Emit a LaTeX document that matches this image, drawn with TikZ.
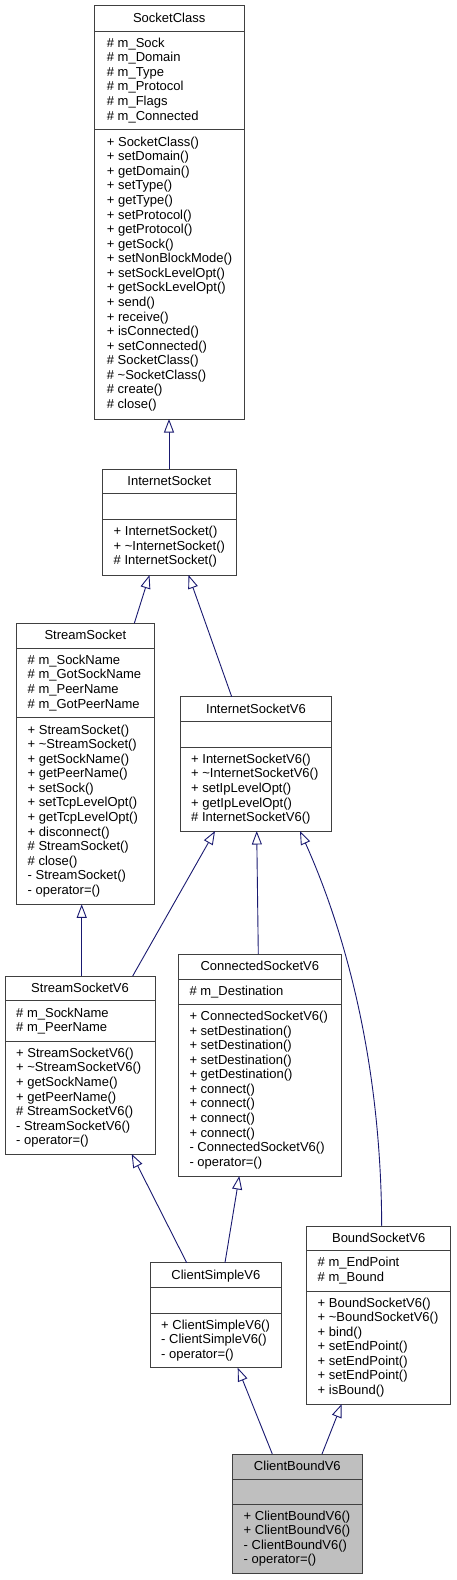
\documentclass[tikz,border=0pt]{standalone}
\usepackage{fontspec}
\setmainfont{Liberation Sans}
\usetikzlibrary{arrows.meta}
\definecolor{edgeblue}{HTML}{191970}
\definecolor{boxline}{HTML}{404040}
\definecolor{cbfill}{HTML}{BFBFBF}
\tikzset{
 cls/.style={draw=boxline, line width=1pt, fill=white, outer sep=0pt, inner sep=0pt, rectangle},
 seprule/.style={draw=boxline, line width=1pt},
 ttl/.style={anchor=base, inner sep=0pt, font=\fontsize{13}{14.57}\selectfont},
 mem/.style={anchor=base west, inner sep=0pt, font=\fontsize{13}{14.57}\selectfont},
 inh/.style={draw=edgeblue, line width=0.9pt, -{Triangle[length=13.5pt,width=10pt,fill=white]}},
}
% #1 name, #2 L, #3 T, #4 R, #5 S1, #6 S2, #7 B, #8 title, #9 extra style
\newcommand\umlclass[9]{%
  \node[cls, #9, minimum width={#4-#2}, minimum height={#7-#3}, anchor=north west] (#1) at (#2,#3) {};
  \draw[seprule] (#2,#5) -- (#4,#5);
  \draw[seprule] (#2,#6) -- (#4,#6);
  \node[ttl] (#1-t) at ({(#2+#4)/2}, {(#3+#5)/2+4}) {#8};
}
% #1 prefix, #2 x, #3 ytop, #4 ybot, #5 n, #6 list
\newcommand\members[6]{%
  \foreach \t [count=\i from 0] in {#6} {
    \node[mem] (#1-\i) at (#2, {(#3+#4)/2 - (#5-1)*7.285 + \i*14.57 + 3.2}) {\t};
  }
}
\begin{document}
\begin{tikzpicture}[x=1pt,y=-1pt]
\useasboundingbox (0,0) rectangle (456,1580);

% SocketClass
\umlclass{SC}{94.3}{5.7}{244}{31.7}{129.3}{419}{SocketClass}{}
\members{SCa}{106.7}{31.7}{129.3}{6}{\# m\_Sock,\# m\_Domain,\# m\_Type,\# m\_Protocol,\# m\_Flags,\# m\_Connected}
\members{SCm}{106.7}{129.3}{419}{19}{+ SocketClass(),+ setDomain(),+ getDomain(),+ setType(),+ getType(),+ setProtocol(),+ getProtocol(),+ getSock(),+ setNonBlockMode(),+ setSockLevelOpt(),+ getSockLevelOpt(),+ send(),+ receive(),+ isConnected(),+ setConnected(),\# SocketClass(),\# \textasciitilde SocketClass(),\# create(),\# close()}

% InternetSocket
\umlclass{IS}{102}{469}{236.7}{493.7}{519.3}{575}{InternetSocket}{}
\members{ISm}{113.5}{519.3}{575}{3}{+ InternetSocket(),+ \textasciitilde InternetSocket(),\# InternetSocket()}

% StreamSocket
\umlclass{SS}{16.7}{623.3}{154}{648.3}{717.7}{904.3}{StreamSocket}{}
\members{SSa}{27.5}{648.3}{717.7}{4}{\# m\_SockName,\# m\_GotSockName,\# m\_PeerName,\# m\_GotPeerName}
\members{SSm}{27.5}{717.7}{904.3}{12}{+ StreamSocket(),+ \textasciitilde StreamSocket(),+ getSockName(),+ getPeerName(),+ setSock(),+ setTcpLevelOpt(),+ getTcpLevelOpt(),+ disconnect(),\# StreamSocket(),\# close(),- StreamSocket(),- operator=()}

% InternetSocketV6
\umlclass{ISV}{180.7}{696.7}{331.3}{721.3}{747.7}{831}{InternetSocketV6}{}
\members{ISVm}{191}{747.7}{831}{5}{+ InternetSocketV6(),+ \textasciitilde InternetSocketV6(),+ setIpLevelOpt(),+ getIpLevelOpt(),\# InternetSocketV6()}

% StreamSocketV6
\umlclass{SSV}{5}{976}{155}{1000.7}{1041.7}{1154}{StreamSocketV6}{}
\members{SSVa}{16}{1000.7}{1041.7}{2}{\# m\_SockName,\# m\_PeerName}
\members{SSVm}{16}{1041.7}{1154}{7}{+ StreamSocketV6(),+ \textasciitilde StreamSocketV6(),+ getSockName(),+ getPeerName(),\# StreamSocketV6(),- StreamSocketV6(),- operator=()}

% ConnectedSocketV6
\umlclass{CSV}{178.3}{954}{341.3}{979.3}{1004.3}{1176}{ConnectedSocketV6}{}
\members{CSVa}{189.3}{979.3}{1004.3}{1}{\# m\_Destination}
\members{CSVm}{189.3}{1004.3}{1176}{11}{+ ConnectedSocketV6(),+ setDestination(),+ setDestination(),+ setDestination(),+ getDestination(),+ connect(),+ connect(),+ connect(),+ connect(),- ConnectedSocketV6(),- operator=()}

% ClientSimpleV6
\umlclass{CS}{150}{1262.7}{281.7}{1287.3}{1313.3}{1367.7}{ClientSimpleV6}{}
\members{CSm}{161}{1313.3}{1367.7}{3}{+ ClientSimpleV6(),- ClientSimpleV6(),- operator=()}

% BoundSocketV6
\umlclass{BS}{306.7}{1226}{450.7}{1250.7}{1291}{1404}{BoundSocketV6}{}
\members{BSa}{317.5}{1250.7}{1291}{2}{\# m\_EndPoint,\# m\_Bound}
\members{BSm}{317.5}{1291}{1404}{7}{+ BoundSocketV6(),+ \textasciitilde BoundSocketV6(),+ bind(),+ setEndPoint(),+ setEndPoint(),+ setEndPoint(),+ isBound()}

% ClientBoundV6
\umlclass{CB}{232.7}{1454}{362}{1479}{1504.3}{1573.3}{ClientBoundV6}{fill=cbfill}
\members{CBm}{243.5}{1504.3}{1573.3}{4}{+ ClientBoundV6(),+ ClientBoundV6(),- ClientBoundV6(),- operator=()}

% inheritance connectors
\draw[inh] (169,0 |- IS.north) -- (169,0 |- SC.south);
\draw[inh] (134.3,0 |- SS.north) -- (149.5,0 |- IS.south);
\draw[inh] (231.7,0 |- ISV.north) -- (188.5,0 |- IS.south);
\draw[inh] (81.7,0 |- SSV.north) -- (81.7,0 |- SS.south);
\draw[inh] (132.7,0 |- SSV.north) -- (215,0 |- ISV.south);
\draw[inh] (258.3,0 |- CSV.north) -- (256.7,0 |- ISV.south);
\draw[inh] (381.7,0 |- BS.north) .. controls (381,1050) and (340,920) .. (300,0 |- ISV.south);
\draw[inh] (186.7,0 |- CS.north) -- (131.7,0 |- SSV.south);
\draw[inh] (225,0 |- CS.north) -- (239.3,0 |- CSV.south);
\draw[inh] (272.3,0 |- CB.north) -- (237.7,0 |- CS.south);
\draw[inh] (322,0 |- CB.north) -- (341.7,0 |- BS.south);
\end{tikzpicture}
\end{document}
